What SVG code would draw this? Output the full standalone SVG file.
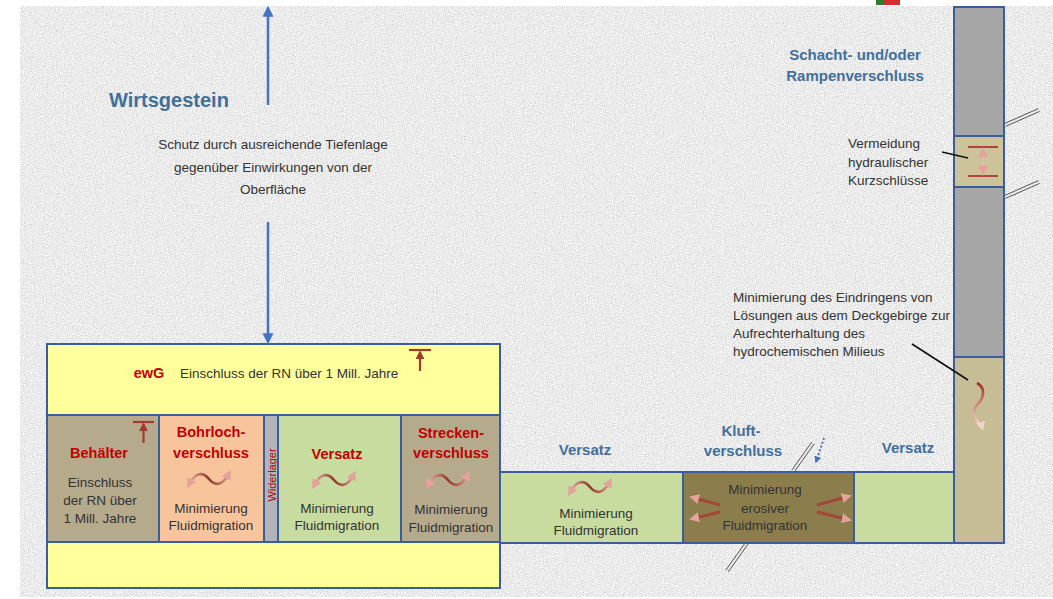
<svg xmlns="http://www.w3.org/2000/svg" xmlns:xlink="http://www.w3.org/1999/xlink" width="1053" height="599" viewBox="0 0 1053 599">
<style>
.box{stroke:#3a5e9c;stroke-width:2}
.t{font-family:"Liberation Sans",Arial,sans-serif;font-size:13.5px;fill:#333}
.tc{text-anchor:middle}
.red{font-family:"Liberation Sans",Arial,sans-serif;font-size:14.5px;font-weight:bold;fill:#c00000;text-anchor:middle}
.blue{font-family:"Liberation Sans",Arial,sans-serif;font-size:15px;font-weight:bold;fill:#41709c;text-anchor:middle}
.lead{stroke:#111;stroke-width:1.6;fill:none}
.frac{stroke:#555;stroke-width:1;fill:none}
.tsym{stroke:#a03c2e;stroke-width:2.2;fill:none}
</style>
<defs>
<filter id="noise" x="0" y="0" width="100%" height="100%" filterUnits="objectBoundingBox">
<feTurbulence type="fractalNoise" baseFrequency="0.9" numOctaves="2" seed="7" result="n"/>
<feColorMatrix in="n" type="saturate" values="0" result="g"/>
<feComponentTransfer in="g">
<feFuncR type="linear" slope="0.8" intercept="0.43"/>
<feFuncG type="linear" slope="0.8" intercept="0.43"/>
<feFuncB type="linear" slope="0.8" intercept="0.43"/>
<feFuncA type="linear" slope="0" intercept="1"/>
</feComponentTransfer>
</filter>
<linearGradient id="wg" x1="0" y1="0" x2="1" y2="0">
<stop offset="0" stop-color="#e3a7a0"/>
<stop offset="0.5" stop-color="#8e3628"/>
<stop offset="1" stop-color="#d98f86"/>
</linearGradient>
<linearGradient id="vg" x1="0" y1="0" x2="0" y2="1">
<stop offset="0" stop-color="#9a3022"/>
<stop offset="0.55" stop-color="#d98b80"/>
<stop offset="1" stop-color="#f3d9d2"/>
</linearGradient>
<marker id="pk" viewBox="0 0 10 10" refX="4" refY="5" markerWidth="10" markerHeight="10" markerUnits="userSpaceOnUse" orient="auto-start-reverse">
<path d="M0 0 L10 5 L0 10 z" fill="#e3a39b"/>
</marker>
<marker id="rd" viewBox="0 0 10 10" refX="8" refY="5" markerWidth="9" markerHeight="9" markerUnits="userSpaceOnUse" orient="auto">
<path d="M0 0 L10 5 L0 10 z" fill="#a03c2e"/>
</marker>
<marker id="bl" viewBox="0 0 10 10" refX="8" refY="5" markerWidth="11" markerHeight="11" markerUnits="userSpaceOnUse" orient="auto">
<path d="M0 0 L10 5 L0 10 z" fill="#4472c4"/>
</marker>
<marker id="bls" viewBox="0 0 10 10" refX="8" refY="5" markerWidth="7" markerHeight="7" markerUnits="userSpaceOnUse" orient="auto">
<path d="M0 0 L10 5 L0 10 z" fill="#4472c4"/>
</marker>
<g id="wave">
<path d="M -19 4 C -13 -7, -6 -7, 0 0 C 6 7, 13 7, 19 -4" fill="none" stroke="url(#wg)" stroke-width="2.6" marker-start="url(#pk)" marker-end="url(#pk)"/>
</g>
</defs>

<rect x="0" y="0" width="1053" height="599" fill="#ffffff"/>
<rect x="20" y="6" width="1033" height="591" fill="#d8d8d8" filter="url(#noise)"/>
<rect x="876" y="0" width="9" height="5" fill="#2e7d32"/>
<rect x="884" y="0" width="16" height="5" fill="#d32f2f"/>

<g id="wirtsgestein">
<text x="109" y="107" font-family="Liberation Sans, Arial, sans-serif" font-size="20" font-weight="bold" fill="#41709c">Wirtsgestein</text>
<text class="t tc" x="273" y="149" font-size="15.5">Schutz durch ausreichende Tiefenlage</text>
<text class="t tc" x="273" y="172" font-size="15.5">gegenüber Einwirkungen von der</text>
<text class="t tc" x="273" y="194" font-size="15.5">Oberfläche</text>
</g>

<g id="ewg">
<rect class="box" x="47" y="344" width="453" height="244" fill="#ffff9c"/>
<text class="red" x="149" y="378" font-size="15">ewG</text>
<text class="t" x="180" y="378">Einschluss der RN über 1 Mill. Jahre</text>
<line class="tsym" x1="409" y1="350" x2="431" y2="350"/>
<line class="tsym" x1="420" y1="371" x2="420" y2="352" marker-end="url(#rd)"/>
</g>

<g id="behaelter">
<rect class="box" x="47" y="415" width="112" height="127" fill="#b6aa8c"/>
<text class="red" x="99" y="458" font-size="15">Behälter</text>
<text class="t tc" x="100" y="487">Einschluss</text>
<text class="t tc" x="100" y="505">der RN über</text>
<text class="t tc" x="100" y="523">1 Mill. Jahre</text>
<line class="tsym" x1="133" y1="422" x2="154" y2="422"/>
<line class="tsym" x1="143.5" y1="443" x2="143.5" y2="424" marker-end="url(#rd)"/>
</g>

<g id="bohrlochverschluss">
<rect class="box" x="159" y="415" width="105" height="127" fill="#f8c49c"/>
<text class="red" x="211" y="437">Bohrloch-</text>
<text class="red" x="211" y="458">verschluss</text>
<use xlink:href="#wave" x="209" y="479"/>
<text class="t tc" x="211" y="513">Minimierung</text>
<text class="t tc" x="211" y="530">Fluidmigration</text>
</g>

<g id="widerlager">
<rect class="box" x="264" y="415" width="14" height="127" fill="#b3b3bb"/>
<text x="0" y="0" transform="translate(275.5 475) rotate(-90)" font-family="Liberation Sans, Arial, sans-serif" font-size="11" fill="#c00000" text-anchor="middle">Widerlager</text>
</g>

<g id="versatz1">
<rect class="box" x="278" y="415" width="123" height="127" fill="#c8dca0"/>
<text class="red" x="337" y="459">Versatz</text>
<use xlink:href="#wave" x="334" y="480"/>
<text class="t tc" x="337" y="513">Minimierung</text>
<text class="t tc" x="337" y="530">Fluidmigration</text>
</g>

<g id="streckenverschluss">
<rect class="box" x="401" y="415" width="99" height="127" fill="#b6aa8c"/>
<text class="red" x="451" y="438">Strecken-</text>
<text class="red" x="451" y="458">verschluss</text>
<use xlink:href="#wave" x="448" y="480"/>
<text class="t tc" x="451" y="514">Minimierung</text>
<text class="t tc" x="451" y="532">Fluidmigration</text>
</g>

<g id="versatz2">
<rect class="box" x="500" y="472" width="183" height="71" fill="#c8dca0"/>
<text class="blue" x="585" y="455">Versatz</text>
<use xlink:href="#wave" x="590" y="487"/>
<text class="t tc" x="596" y="518">Minimierung</text>
<text class="t tc" x="596" y="535">Fluidmigration</text>
</g>

<g id="kluftverschluss">
<rect class="box" x="683" y="472" width="171" height="71" fill="#8c7e4c"/>
<text class="blue" x="741" y="436">Kluft-</text>
<text class="blue" x="743" y="456">verschluss</text>
<text class="t tc" x="765" y="494">Minimierung</text>
<text class="t tc" x="765" y="513">erosiver</text>
<text class="t tc" x="765" y="530">Fluidmigration</text>
<g stroke="#a4473a" stroke-width="3" fill="none">
<line x1="720" y1="505" x2="695" y2="498" marker-end="url(#pk)"/>
<line x1="720" y1="512" x2="695" y2="518" marker-end="url(#pk)"/>
<line x1="817" y1="505" x2="846" y2="497" marker-end="url(#pk)"/>
<line x1="817" y1="512" x2="846" y2="519" marker-end="url(#pk)"/>
</g>
</g>

<g id="versatz3">
<rect class="box" x="854" y="472" width="100" height="71" fill="#c8dca0"/>
<text class="blue" x="908" y="453">Versatz</text>
</g>

<g id="schacht">
<rect class="box" x="954" y="7" width="50" height="129" fill="#a6a6a6"/>
<rect class="box" x="954" y="136" width="50" height="51" fill="#cdc39b"/>
<rect class="box" x="954" y="187" width="50" height="170" fill="#a6a6a6"/>
<rect class="box" x="954" y="357" width="50" height="186" fill="#c6bc95"/>
<text class="blue" x="855" y="60">Schacht- und/oder</text>
<text class="blue" x="855" y="81">Rampenverschluss</text>
<text class="t" x="848" y="148">Vermeidung</text>
<text class="t" x="848" y="167">hydraulischer</text>
<text class="t" x="848" y="185">Kurzschlüsse</text>
<line x1="968" y1="147" x2="998" y2="147" stroke="#b0433a" stroke-width="2"/>
<line x1="968" y1="176" x2="998" y2="176" stroke="#b0433a" stroke-width="2"/>
<line x1="983" y1="160" x2="983" y2="153" stroke="#e8b4ad" stroke-width="2" marker-end="url(#pk)"/>
<line x1="983" y1="163" x2="983" y2="170" stroke="#e8b4ad" stroke-width="2" marker-end="url(#pk)"/>
<text class="t" x="733" y="302">Minimierung des Eindringens von</text>
<text class="t" x="733" y="320">Lösungen aus dem Deckgebirge zur</text>
<text class="t" x="733" y="338">Aufrechterhaltung des</text>
<text class="t" x="733" y="356">hydrochemischen Milieus</text>
<path d="M 977 383 C 986 388, 984 398, 977 405 C 971 412, 976 420, 981 426" fill="none" stroke="url(#vg)" stroke-width="2.6"/>
<path d="M 976 423 L 983 431 L 985 421 z" fill="#f1d3cb"/>
</g>

<g id="connectors">
<line x1="268" y1="105" x2="268" y2="8" stroke="#4472c4" stroke-width="2.5" marker-end="url(#bl)"/>
<line x1="268" y1="222" x2="268" y2="342" stroke="#4472c4" stroke-width="2.5" marker-end="url(#bl)"/>
<line class="lead" x1="942" y1="152" x2="968" y2="158"/>
<line class="lead" x1="912" y1="344" x2="968" y2="380"/>
<line x1="824" y1="438" x2="816" y2="462" stroke="#4472c4" stroke-width="2" stroke-dasharray="2 2" marker-end="url(#bls)"/>
<g class="frac">
<line x1="814.2" y1="443.9" x2="794.2" y2="471.9"/>
<line x1="811.8" y1="442.1" x2="791.8" y2="470.1"/>
<line x1="748.2" y1="543.9" x2="728.2" y2="571.9"/>
<line x1="745.8" y1="542.1" x2="725.8" y2="570.1"/>
<line x1="1005.6" y1="126.4" x2="1039.6" y2="111.4"/>
<line x1="1004.4" y1="123.6" x2="1038.4" y2="108.6"/>
<line x1="1005.6" y1="198.4" x2="1039.6" y2="183.4"/>
<line x1="1004.4" y1="195.6" x2="1038.4" y2="180.6"/>
</g>
</g>
</svg>
